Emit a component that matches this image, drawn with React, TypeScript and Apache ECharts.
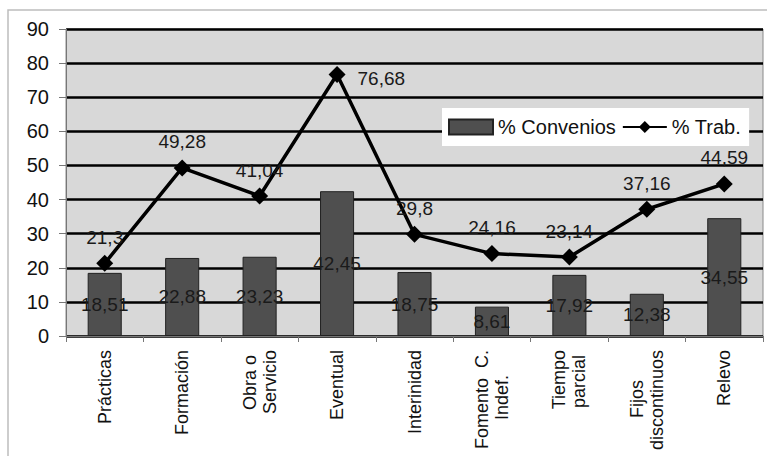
import React, { useEffect, useRef } from "react";
import * as echarts from "echarts";

const categories = [
  "Prácticas",
  "Formación",
  "Obra o\nServicio",
  "Eventual",
  "Interinidad",
  "Fomento  C.\nIndef.",
  "Tiempo\nparcial",
  "Fijos\ndiscontinuos",
  "Relevo",
];
const convenios = [18.51, 22.88, 23.23, 42.45, 18.75, 8.61, 17.92, 12.38, 34.55];
const trab = [21.3, 49.28, 41.04, 76.68, 29.8, 24.16, 23.14, 37.16, 44.59];
const yTicks = [0, 10, 20, 30, 40, 50, 60, 70, 80, 90];

const fmt = (v: number) => String(v).replace(".", ",");

export default function App() {
  const ref = useRef<HTMLDivElement>(null);
  useEffect(() => {
    if (!ref.current) return;
    const chart = echarts.init(ref.current, null, { renderer: "svg" });
    const font = "Liberation Sans, Arial, sans-serif";
    const xFontSize = 18;
    const fontCss = `${xFontSize}px "Liberation Sans", Arial, sans-serif`;

    const measure = (s: string) => {
      let w = 0;
      try {
        const t = new (echarts as any).graphic.Text({ style: { text: s, font: fontCss } });
        w = t.getBoundingRect().width;
      } catch (e) {
        w = 0;
      }
      if (!w) {
        const c = document.createElement("canvas").getContext("2d");
        if (c) {
          c.font = fontCss;
          w = c.measureText(s).width;
        }
      }
      if (!w) w = s.length * xFontSize * 0.52;
      return w;
    };

    // centre the lines of multi-line labels: pad shorter lines with
    // non-breaking spaces at their end (the end sits next to the axis)
    const nb = "\u00a0";
    const nbW = xFontSize * 0.278;
    const labelText: Record<string, string> = {};
    categories.forEach((cat) => {
      const lines = cat.split("\n");
      const widths = lines.map(measure);
      const maxW = Math.max(...widths);
      labelText[cat] = lines
        .map((l, li) => l + nb.repeat(Math.max(0, Math.round((maxW - widths[li]) / 2 / nbW))))
        .join("\n");
    });

    chart.setOption({
      animation: false,
      backgroundColor: "#ffffff",
      textStyle: { fontFamily: font },
      graphic: [
        {
          type: "rect",
          shape: { x: 8, y: 10, width: 790, height: 480 },
          style: { fill: "none", stroke: "#bdbdbd", lineWidth: 1.5 },
          silent: true,
          z: -10,
        },
      ],
      grid: {
        left: 66,
        right: 4,
        top: 29,
        bottom: 120,
        show: true,
        backgroundColor: "#d8d8d8",
        borderColor: "#8a8a8a",
        borderWidth: 1,
      },
      legend: {
        left: 442,
        top: 108,
        padding: [9, 8, 9, 6],
        backgroundColor: "#ffffff",
        itemWidth: 44,
        itemHeight: 15,
        itemGap: 6,
        textStyle: { fontSize: 20, color: "#111", fontFamily: font },
        data: [
          { name: "% Convenios", icon: "rect" },
          { name: "% Trab." },
        ],
      },
      xAxis: {
        type: "category",
        data: categories,
        axisLine: { lineStyle: { color: "#777", width: 1 } },
        axisTick: { show: true, length: 6, lineStyle: { color: "#777" } },
        axisLabel: {
          rotate: 90,
          fontSize: xFontSize,
          color: "#111",
          margin: 14,
          lineHeight: 20,
          fontFamily: font,
          interval: 0,
          formatter: (v: string) => labelText[v] ?? v,
        },
      },
      yAxis: {
        type: "value",
        min: yTicks[0],
        max: yTicks[yTicks.length - 1],
        interval: 10,
        axisLine: { show: true, lineStyle: { color: "#777" } },
        axisTick: { show: true, length: 7, lineStyle: { color: "#777" } },
        axisLabel: { fontSize: 20, color: "#111", margin: 17, fontFamily: font },
        splitLine: { lineStyle: { color: "#000", width: 2.5 } },
      },
      series: [
        {
          name: "% Convenios",
          type: "bar",
          data: convenios,
          barWidth: "44%",
          itemStyle: { color: "#4f4f4f", borderColor: "#222", borderWidth: 1 },
          label: {
            show: true,
            position: "inside",
            fontSize: 19,
            color: "#1a1a1a",
            fontFamily: font,
            formatter: (p: any) => fmt(p.value),
          },
          z: 2,
        },
        {
          name: "% Trab.",
          type: "line",
          data: trab.map((v, i) =>
            i === 3
              ? {
                  value: v,
                  label: { position: "right", distance: 12, offset: [0, 4] },
                }
              : v
          ),
          symbol: "diamond",
          symbolSize: 17,
          lineStyle: { color: "#000", width: 3.5 },
          itemStyle: { color: "#000" },
          label: {
            show: true,
            position: "top",
            distance: 8,
            fontSize: 19,
            color: "#1a1a1a",
            fontFamily: font,
            formatter: (p: any) => fmt(p.value),
          },
          z: 3,
        },
      ],
    });
    return () => chart.dispose();
  }, []);
  return (
    <div
      ref={ref}
      style={{ position: "fixed", left: 0, top: 0, width: 767, height: 456 }}
    />
  );
}
